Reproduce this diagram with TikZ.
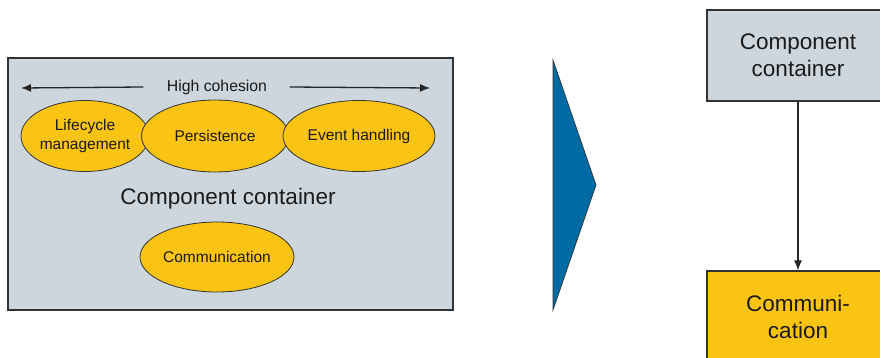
\documentclass[tikz,border=0pt]{standalone}
\usepackage{fontspec}
\setmainfont{Liberation Sans}
\usetikzlibrary{shapes.geometric,arrows.meta}
\definecolor{panelgray}{HTML}{CDD6DD}
\definecolor{sunyellow}{HTML}{FBC312}
\definecolor{arrowblue}{HTML}{006AA3}
\definecolor{inkdark}{HTML}{1A1A1A}
\definecolor{edgegray}{HTML}{333333}
\tikzset{
  panel/.style={draw=edgegray, line width=1.2pt, fill=panelgray, rectangle, inner sep=0pt},
  blob/.style={draw=edgegray, line width=0.8pt, fill=sunyellow, ellipse, inner sep=0pt,
    text=inkdark, font=\fontsize{15.5}{19}\selectfont, align=center},
  blocklabel/.style={text=inkdark, font=\fontsize{22.5}{27}\selectfont, align=center},
  flowbox/.style={draw=edgegray, line width=1.2pt, rectangle, inner sep=0pt,
    minimum width=182pt, minimum height=91pt, text=inkdark,
    font=\fontsize{22.5}{27}\selectfont, align=center},
  tipline/.style={draw=black!85, line width=1.3pt, -{Latex[length=10pt,width=8pt]}}
}
\begin{document}
\begin{tikzpicture}[x=1pt,y=-1pt]
\useasboundingbox (0,0) rectangle (880,358);
\clip (0,0) rectangle (880,358);
\fill[white] (0,0) rectangle (880,358);

% left panel: container with its services
\node[panel, minimum width=445pt, minimum height=252pt] (cont) at (230.5,184) {};
\node[text=inkdark, font=\fontsize{15.8}{19}\selectfont] (coh) at (217,87) {High cohesion};
\coordinate (cohL) at (21,88);
\coordinate (cohR) at (430,88);
\draw[tipline] (coh.west) ++(-20pt,0) coordinate (cohLs) -- (cohL);
\draw[tipline] (coh.east) ++(19pt,0) coordinate (cohRs) -- (cohR);

\node[blob, minimum width=128pt, minimum height=71pt] (life) at (85,136) {Lifecycle\\management};
\node[blob, minimum width=147pt, minimum height=72pt] (pers) at (215,136) {Persistence};
\node[blob, minimum width=152pt, minimum height=71pt] (evt) at (359,136) {Event handling};
\node[blocklabel] (contlbl) at (228,199) {Component container};
\node[blob, minimum width=154pt, minimum height=70pt] (comm) at (217,257) {Communication};

% transition arrow
\fill[arrowblue, draw=edgegray, line width=0.7pt] (553,60) -- (596,185) -- (553,310) -- cycle;

% right side: resulting layering
\node[flowbox, fill=panelgray] (top) at (798,55.5) {Component\\container};
\node[flowbox, fill=sunyellow] (bot) at (798,316.5) {Communi-\\cation};
\draw[tipline, line width=1.1pt] (top.south) -- (bot.north);
\end{tikzpicture}
\end{document}
